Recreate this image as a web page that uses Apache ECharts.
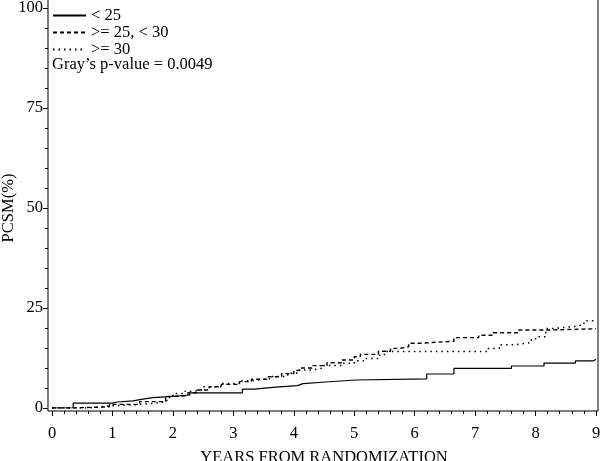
<!DOCTYPE html>
<html><head><meta charset="utf-8">
<script src="https://cdn.jsdelivr.net/npm/echarts@6/dist/echarts.min.js"></script>
<style>html,body{margin:0;padding:0;background:#fff}#c{width:600px;height:461px}</style>
</head><body><div id="c"></div>
<script>
const seriesNames = ['< 25', '>= 25, < 30', '>= 30'];
const xTitle = 'YEARS FROM RANDOMIZATION';
const yTitle = 'PCSM(%)';
const pValueText = 'Gray\u2019s p-value = 0.0049';

const lowT = [0, 0.35, 1.0, 1.08, 1.34, 1.5, 1.67, 2.0, 2.28, 3.15, 3.35, 3.7, 4.06, 4.15, 4.53, 5.03, 6.2, 6.65, 7.6, 8.14, 8.66, 8.96, 9];
const lowV = [0, 1.2, 1.5, 1.8, 2.2, 2.6, 2.9, 3.25, 3.8, 4.7, 5.2, 5.6, 6.1, 6.5, 7.0, 7.3, 8.5, 9.9, 10.5, 11.2, 11.8, 12.2, 12.2];

const midT = [0, 0.35, 0.95, 1.45, 1.88, 2.05, 2.25, 2.4, 2.6, 2.8, 3.1, 3.3, 3.55, 3.8, 4.0, 4.1, 4.3, 4.55, 4.8, 5.0, 5.1, 5.4, 5.6, 5.75, 5.9, 6.1, 6.65, 7.06, 7.3, 7.7, 8.2, 9];
const midV = [0, 0.3, 0.9, 1.6, 2.9, 3.1, 3.8, 4.5, 5.3, 5.9, 6.6, 7.2, 7.8, 8.6, 9.4, 10.0, 10.6, 11.3, 12.0, 12.8, 13.4, 14.2, 14.9, 15.3, 16.2, 16.7, 17.6, 18.2, 18.8, 19.5, 19.8, 19.8];

const highT = [0, 0.6, 0.95, 1.35, 1.7, 1.9, 2.0, 2.2, 2.35, 2.5, 2.8, 3.1, 3.3, 3.6, 3.9, 4.05, 4.3, 4.5, 4.8, 5.0, 5.2, 5.4, 5.5, 6.65, 7.2, 7.4, 7.65, 7.9, 8.0, 8.17, 8.3, 8.6, 8.8, 9];
const highV = [0, 0.5, 0.8, 1.2, 1.6, 2.6, 3.6, 4.2, 4.6, 5.3, 6.1, 6.8, 7.3, 7.9, 8.7, 9.5, 10.0, 10.6, 11.2, 11.8, 12.4, 13.2, 14.1, 14.1, 14.9, 15.8, 16.3, 17.0, 17.8, 19.9, 20.3, 20.8, 21.8, 21.8];

const pairs = (t, v) => t.map((x, i) => [x, v[i]]);
const FONT = 'Liberation Serif';
const FS = 16.5;
const INK = '#000';

const chart = echarts.init(document.getElementById('c'), null, {renderer: 'canvas'});
chart.setOption({
  animation: false,
  backgroundColor: '#fff',
  title: {
    text: pValueText, left: 52, top: 56, padding: 0,
    textStyle: {fontFamily: FONT, fontSize: FS, fontWeight: 'normal', color: INK}
  },
  legend: {
    orient: 'vertical', left: 52, top: 7, padding: 0,
    itemWidth: 33, itemHeight: 10, itemGap: 0,
    data: seriesNames,
    itemStyle: {color: 'rgba(0,0,0,0)', borderColor: 'rgba(0,0,0,0)', borderWidth: 0},
    textStyle: {fontFamily: FONT, fontSize: FS, color: INK, lineHeight: 16}
  },
  grid: [
    {left: 52, right: 4, top: 8, bottom: 53, show: false, outerBoundsMode: 'none', containLabel: false},
    {left: 48, right: 2, top: -2, bottom: 50, show: true, borderColor: INK, borderWidth: 1, backgroundColor: 'transparent', outerBoundsMode: 'none', containLabel: false}
  ],
  xAxis: [
    {
      type: 'value', gridIndex: 0, min: 0, max: 9, interval: 1, offset: 3,
      name: xTitle, nameLocation: 'middle', nameGap: 38, nameMoveOverlap: false,
      nameTextStyle: {fontFamily: FONT, fontSize: FS, color: INK},
      axisLine: {show: false, onZero: false},
      axisTick: {show: true, length: 5, lineStyle: {color: INK}},
      minorTick: {show: true, splitNumber: 5, length: 3, lineStyle: {color: INK}},
      axisLabel: {fontFamily: FONT, fontSize: FS, color: INK, margin: 14},
      splitLine: {show: false}
    },
    {type: 'value', gridIndex: 1, show: false, min: 0, max: 1}
  ],
  yAxis: [
    {
      type: 'value', gridIndex: 0, min: 0, max: 100, interval: 25, offset: 4,
      name: yTitle, nameLocation: 'middle', nameGap: 31, nameRotate: 90, nameMoveOverlap: false,
      nameTextStyle: {fontFamily: FONT, fontSize: FS, color: INK},
      axisLine: {show: false, onZero: false},
      axisTick: {show: true, length: 5, lineStyle: {color: INK}},
      minorTick: {show: true, splitNumber: 5, length: 3, lineStyle: {color: INK}},
      axisLabel: {fontFamily: FONT, fontSize: FS, color: INK, margin: 5},
      splitLine: {show: false}
    },
    {type: 'value', gridIndex: 1, show: false, min: 0, max: 1}
  ],
  series: [
    {
      name: seriesNames[0], type: 'line', step: 'end', symbol: 'none', showSymbol: false,
      xAxisIndex: 0, yAxisIndex: 0, data: pairs(lowT, lowV),
      lineStyle: {color: INK, width: 1.2, type: 'solid'}, itemStyle: {color: INK}
    },
    {
      name: seriesNames[1], type: 'line', step: 'end', symbol: 'none', showSymbol: false,
      xAxisIndex: 0, yAxisIndex: 0, data: pairs(midT, midV),
      lineStyle: {color: INK, width: 1.4, type: [4, 3]}, itemStyle: {color: INK}
    },
    {
      name: seriesNames[2], type: 'line', step: 'end', symbol: 'none', showSymbol: false,
      xAxisIndex: 0, yAxisIndex: 0, data: pairs(highT, highV),
      lineStyle: {color: INK, width: 1.5, type: [1.5, 4]}, itemStyle: {color: INK}
    }
  ]
});
</script>
</body></html>
